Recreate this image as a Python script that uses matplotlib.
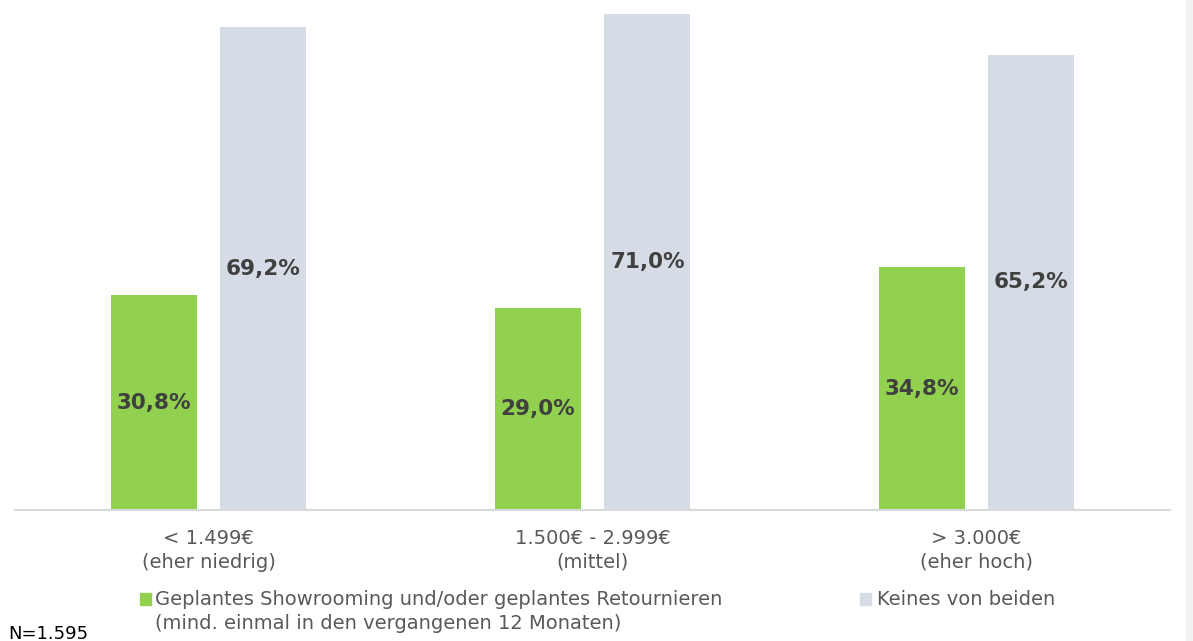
import numpy as np
import matplotlib.pyplot as plt
from matplotlib.patches import Rectangle

# Daten
kategorien = ["< 1.499€\n(eher niedrig)", "1.500€ - 2.999€\n(mittel)", "> 3.000€\n(eher hoch)"]
showrooming = [30.8, 29.0, 34.8]
keines = [69.2, 71.0, 65.2]
serien_namen = ["Geplantes Showrooming und/oder geplantes Retournieren\n(mind. einmal in den vergangenen 12 Monaten)",
                "Keines von beiden"]
stichprobe = "N=1.595"

GRUEN = "#92D050"
GRAU = "#D6DCE5"
TEXT = "#595959"

plt.rcParams['font.family'] = ['DejaVu Sans']

fig = plt.figure(figsize=(11.93, 6.41), dpi=100)
ax = fig.add_axes([15 / 1193, 1 - 510 / 641, 1155 / 1193, 510 / 641])

x = np.arange(len(kategorien))
breite = 0.224
versatz = 0.143

b1 = ax.bar(x - versatz, showrooming, breite, color=GRUEN, label=serien_namen[0])
b2 = ax.bar(x + versatz, keines, breite, color=GRAU, label=serien_namen[1])

# Werte mittig in die Balken
for bars in (b1, b2):
    for r in bars:
        h = r.get_height()
        ax.text(r.get_x() + r.get_width() / 2, h / 2, f"{h:.1f}%".replace(".", ","),
                ha="center", va="center", fontsize=15.5, fontweight="bold", color="#404040")

ax.set_xlim(-0.504, 2.504)
ax.set_ylim(0, 73.07)
ax.set_xticks(x)
ax.set_xticklabels(kategorien, fontsize=14, color=TEXT, linespacing=1.3)
ax.tick_params(axis="x", length=0, pad=14)
ax.set_yticks([])
for s in ("top", "right", "left"):
    ax.spines[s].set_visible(False)
ax.spines["bottom"].set_color("#D9D9D9")
ax.spines["bottom"].set_linewidth(1.5)

# Legende von Hand (Quadrat an der ersten Zeile)
W, H = 1193, 641
for (px, tx), farbe, name in zip([(140, 155), (860, 877)], [GRUEN, GRAU], serien_namen):
    fig.add_artist(Rectangle((px / W, 1 - 605 / H), 11 / W, 12 / H,
                             transform=fig.transFigure, color=farbe))
    fig.text(tx / W, 1 - 590 / H, name, fontsize=14, color=TEXT, ha="left", va="top",
             linespacing=1.35)

fig.text(8 / W, 1 - 639 / H, stichprobe, fontsize=13, color="black", ha="left", va="baseline")

# grauer Rand rechts (Screenshot)
fig.add_artist(Rectangle((1186 / W, 0), 7 / W, 1, transform=fig.transFigure,
                         color="#F2F2F2", zorder=-1))

fig.savefig("out.png", dpi=100)
